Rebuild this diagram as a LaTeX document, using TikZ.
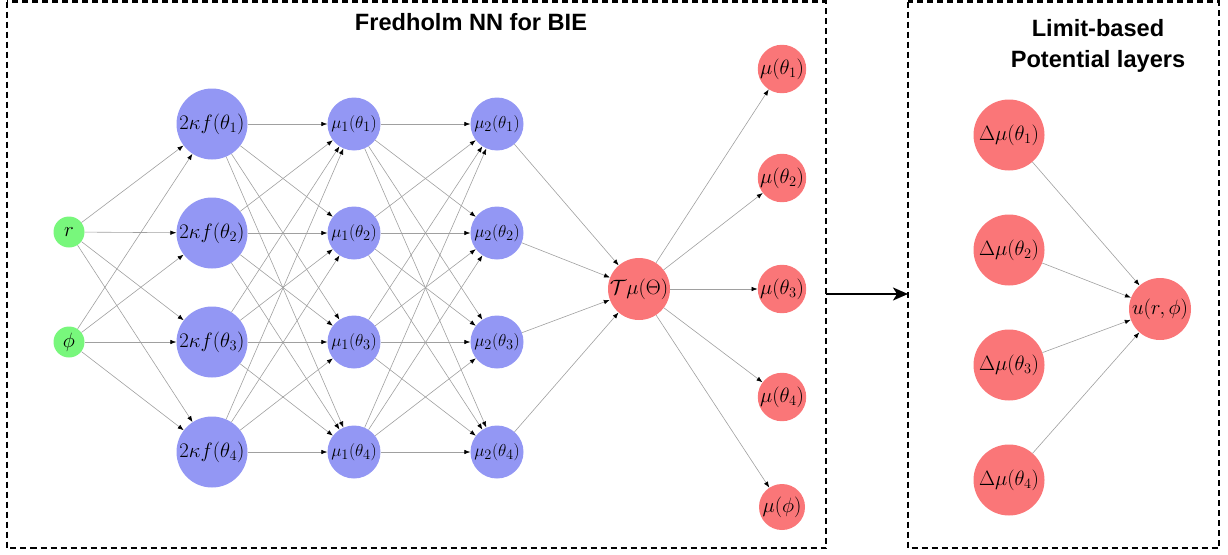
\documentclass[tikz,border=0pt]{standalone}
\usepackage{fontspec}
\newfontfamily\titlefont{Liberation Sans}
\usetikzlibrary{arrows.meta}
\definecolor{nblue}{HTML}{9397F4}
\definecolor{nred}{HTML}{FA7678}
\definecolor{ngreen}{HTML}{78F77C}
\definecolor{edgegray}{HTML}{A0A0A0}
\begin{document}
\begin{tikzpicture}[x=1pt,y=-1pt,
  neuron/.style={circle,inner sep=0pt},
  inp/.style={neuron,fill=ngreen,minimum size=31pt,font=\fontsize{20}{24}\selectfont},
  fnode/.style={neuron,fill=nblue,minimum size=71pt,font=\fontsize{20}{24}\selectfont},
  hnode/.style={neuron,fill=nblue,minimum size=53pt,font=\fontsize{19}{23}\selectfont},
  tnode/.style={neuron,fill=nred,minimum size=62pt,font=\fontsize{20}{24}\selectfont},
  onode/.style={neuron,fill=nred,minimum size=48pt,font=\fontsize{20}{24}\selectfont},
  dnode/.style={neuron,fill=nred,minimum size=71pt,font=\fontsize{20.5}{24}\selectfont},
  unode/.style={neuron,fill=nred,minimum size=62pt,font=\fontsize{20.5}{24}\selectfont},
  conn/.style={draw=edgegray,line width=0.6pt,-{Latex[length=6pt,width=4.5pt,color=black]}},
  bigarrow/.style={draw=black,line width=2pt,-{Stealth[length=15pt,width=13pt,inset=4pt]}},
  panel/.style={draw=black,line width=2.3pt,dash pattern=on 6pt off 4pt},
  title/.style={font=\titlefont\bfseries\fontsize{23.6}{31}\selectfont,align=center,inner sep=0pt}
]
\useasboundingbox (0,0) rectangle (1228,554);

% panels
\draw[panel] (7,1.5) rectangle (826,548);
\draw[panel] (908,1.5) rectangle (1219,548);
\node[title] (t1) at (471,22) {Fredholm NN for BIE};
\node[title] (t2) at (1098,46) {Limit-based\\Potential layers};

% input nodes
\node[inp] (r) at (69,232) {$r$};
\node[inp] (p) at (69,342) {$\phi$};

% layers
\foreach \i/\y in {1/124,2/233,3/342,4/452}{
  \node[fnode] (f\i) at (212,\y) {$2\kappa f(\theta_{\i})$};
  \node[hnode] (m\i) at (354,\y) {$\mu_1(\theta_{\i})$};
  \node[hnode] (n\i) at (497,\y) {$\mu_2(\theta_{\i})$};
}
\node[tnode] (T) at (639,289) {$\mathcal{T}\mu(\Theta)$};
\foreach \i/\y in {1/69,2/178,3/289,4/397}{
  \node[onode] (o\i) at (782,\y) {$\mu(\theta_{\i})$};
}
\node[onode,minimum size=46pt] (o5) at (782,507) {$\mu(\phi)$};

\foreach \i/\y in {1/135,2/250,3/365,4/480}{
  \node[dnode] (d\i) at (1009,\y) {$\Delta\mu(\theta_{\i})$};
}
\node[unode] (u) at (1160,309) {$u(r,\phi)$};

% connections
\foreach \j in {1,...,4}{
  \draw[conn] (r) -- (f\j);
  \draw[conn] (p) -- (f\j);
}
\foreach \i in {1,...,4}{
  \foreach \j in {1,...,4}{
    \draw[conn] (f\i) -- (m\j);
    \draw[conn] (m\i) -- (n\j);
  }
  \draw[conn] (n\i) -- (T);
  \draw[conn] (d\i) -- (u);
}
\foreach \k in {1,...,5}{
  \draw[conn] (T) -- (o\k);
}

% arrow between panels
\coordinate (a1) at (826,294);
\coordinate (a2) at (908,294);
\draw[bigarrow] (a1) -- (a2);
\end{tikzpicture}
\end{document}
